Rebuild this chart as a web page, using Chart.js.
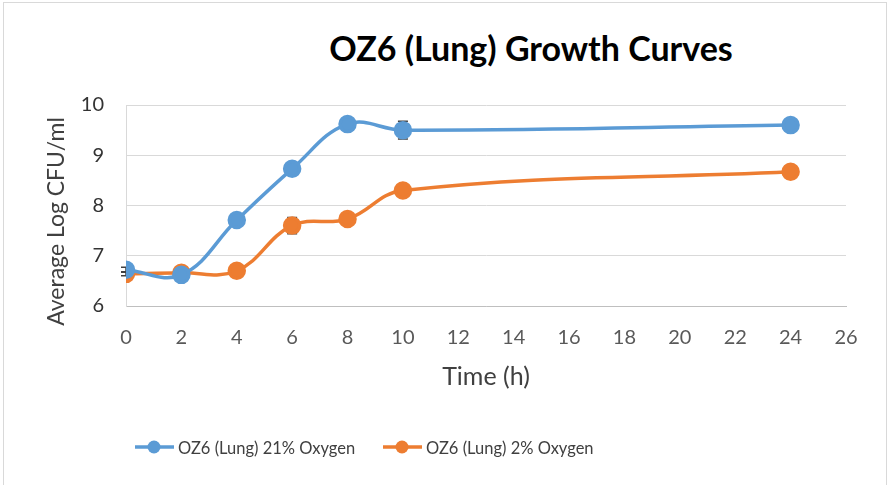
<!DOCTYPE html>
<html>
<head>
<meta charset="utf-8">
<script src="https://cdn.jsdelivr.net/npm/chart.js@4/dist/chart.umd.min.js"></script>
<style>
  html, body { margin: 0; padding: 0; background: #fff; }
  #wrap { position: relative; width: 889px; height: 485px; overflow: hidden; }
  #frame { position: absolute; left: 3px; top: 2px; width: 884px; height: 500px; border: 1px solid #d9d9d9; box-sizing: border-box; }
  #title { position: absolute; left: 0; width: 1062px; top: 28px; text-align: center; white-space: nowrap;
           font: bold 34px Lato, "Open Sans", sans-serif; line-height: 1.2; color: #000; }
  canvas { position: absolute; left: 0; top: 0; }
</style>
</head>
<body>
<div id="wrap">
  <div id="frame"></div>
  <div id="title">OZ6 (Lung) Growth Curves</div>
  <canvas id="chart" width="889" height="485"></canvas>
</div>
<script>
// Time points (h)
const hours = [0, 2, 4, 6, 8, 10, 24];
// Average log CFU/ml
const oxy21 = [6.72, 6.62, 7.71, 8.73, 9.62, 9.50, 9.60];
const oxy2 = [6.64, 6.66, 6.70, 7.60, 7.73, 8.30, 8.67];
// Error bar half-heights
const err21 = [0.05, 0.04, 0.06, 0.06, 0.05, 0.175, 0.05];
const err2 = [0.04, 0.04, 0.05, 0.16, 0.05, 0.05, 0.05];

const seriesNames = ["OZ6 (Lung) 21% Oxygen", "OZ6 (Lung) 2% Oxygen"];
const yTitle = "Average Log CFU/ml";
const blue = "#5B9BD5";
const orange = "#ED7D31";
const fontFamily = "Lato, 'Open Sans', sans-serif";

const toPoints = (ys) => hours.map((h, i) => ({ x: h, y: ys[i] }));

// Draws error bars behind the markers
const errorBars = {
  id: "errorBars",
  beforeDatasetsDraw(chart) {
    const { ctx, scales } = chart;
    const errs = [err21, err2];
    ctx.save();
    ctx.strokeStyle = "#404040";
    ctx.lineWidth = 1.5;
    chart.data.datasets.forEach((ds, d) => {
      ds.data.forEach((p, i) => {
        const x = scales.x.getPixelForValue(p.x);
        const yTop = scales.y.getPixelForValue(p.y + errs[d][i]);
        const yBot = scales.y.getPixelForValue(p.y - errs[d][i]);
        ctx.beginPath();
        ctx.moveTo(x, yTop); ctx.lineTo(x, yBot);
        ctx.moveTo(x - 5, yTop); ctx.lineTo(x + 5, yTop);
        ctx.moveTo(x - 5, yBot); ctx.lineTo(x + 5, yBot);
        ctx.stroke();
      });
    });
    ctx.restore();
  },
};

// Excel style legend (line with marker) and the y axis title
const extras = {
  id: "extras",
  afterDraw(chart) {
    const { ctx } = chart;
    const items = [
      { x: 135, color: blue, text: seriesNames[0] },
      { x: 383, color: orange, text: seriesNames[1] },
    ];
    const y = 447;
    ctx.save();
    items.forEach((it) => {
      ctx.strokeStyle = it.color;
      ctx.lineWidth = 3.5;
      ctx.beginPath();
      ctx.moveTo(it.x, y); ctx.lineTo(it.x + 39, y);
      ctx.stroke();
      ctx.fillStyle = it.color;
      ctx.beginPath();
      ctx.arc(it.x + 19, y, 6.5, 0, Math.PI * 2);
      ctx.fill();
      ctx.fillStyle = "#404040";
      ctx.font = "16.5px " + fontFamily;
      ctx.textBaseline = "alphabetic";
      ctx.fillText(it.text, it.x + 43, 454);
    });

    // y axis title, rotated
    const area = chart.chartArea;
    ctx.translate(64, (area.top + area.bottom) / 2 + 16);
    ctx.rotate(-Math.PI / 2);
    ctx.font = "23px " + fontFamily;
    ctx.fillStyle = "#404040";
    ctx.textAlign = "center";
    ctx.textBaseline = "alphabetic";
    ctx.fillText(yTitle, 0, 0);
    ctx.restore();
  },
};

new Chart(document.getElementById("chart"), {
  type: "line",
  data: {
    datasets: [
      {
        label: seriesNames[0],
        data: toPoints(oxy21),
        borderColor: blue,
        backgroundColor: blue,
        borderWidth: 3.5,
        pointRadius: 7.5,
        pointHoverRadius: 7.5,
        tension: 0.4,
      },
      {
        label: seriesNames[1],
        data: toPoints(oxy2),
        borderColor: orange,
        backgroundColor: orange,
        borderWidth: 3.5,
        pointRadius: 7.5,
        pointHoverRadius: 7.5,
        tension: 0.4,
      },
    ],
  },
  plugins: [errorBars, extras],
  options: {
    responsive: false,
    animation: false,
    layout: { padding: { top: 105, right: 43, bottom: 89, left: 0 } },
    plugins: {
      legend: { display: false },
      tooltip: { enabled: false },
      title: { display: false },
    },
    scales: {
      x: {
        type: "linear",
        min: 0,
        max: 26,
        afterFit: (s) => { s.height = 90; },
        ticks: { stepSize: 2, padding: 20, color: "#595959", font: { size: 20, family: fontFamily } },
        grid: { display: false, drawTicks: false },
        border: { display: true, color: "#bfbfbf", width: 1 },
        title: { display: true, text: "Time (h)", color: "#404040", padding: { top: 4, bottom: 4 }, font: { size: 25, family: fontFamily } },
      },
      y: {
        min: 6,
        max: 10,
        afterFit: (s) => { s.width = 126; },
        ticks: { stepSize: 1, padding: 22, color: "#333333", font: { size: 20, family: fontFamily } },
        grid: { color: "#d9d9d9", lineWidth: 1, drawTicks: false },
        border: { display: true, color: "#d9d9d9", width: 1 },
      },
    },
  },
});
</script>
</body>
</html>
